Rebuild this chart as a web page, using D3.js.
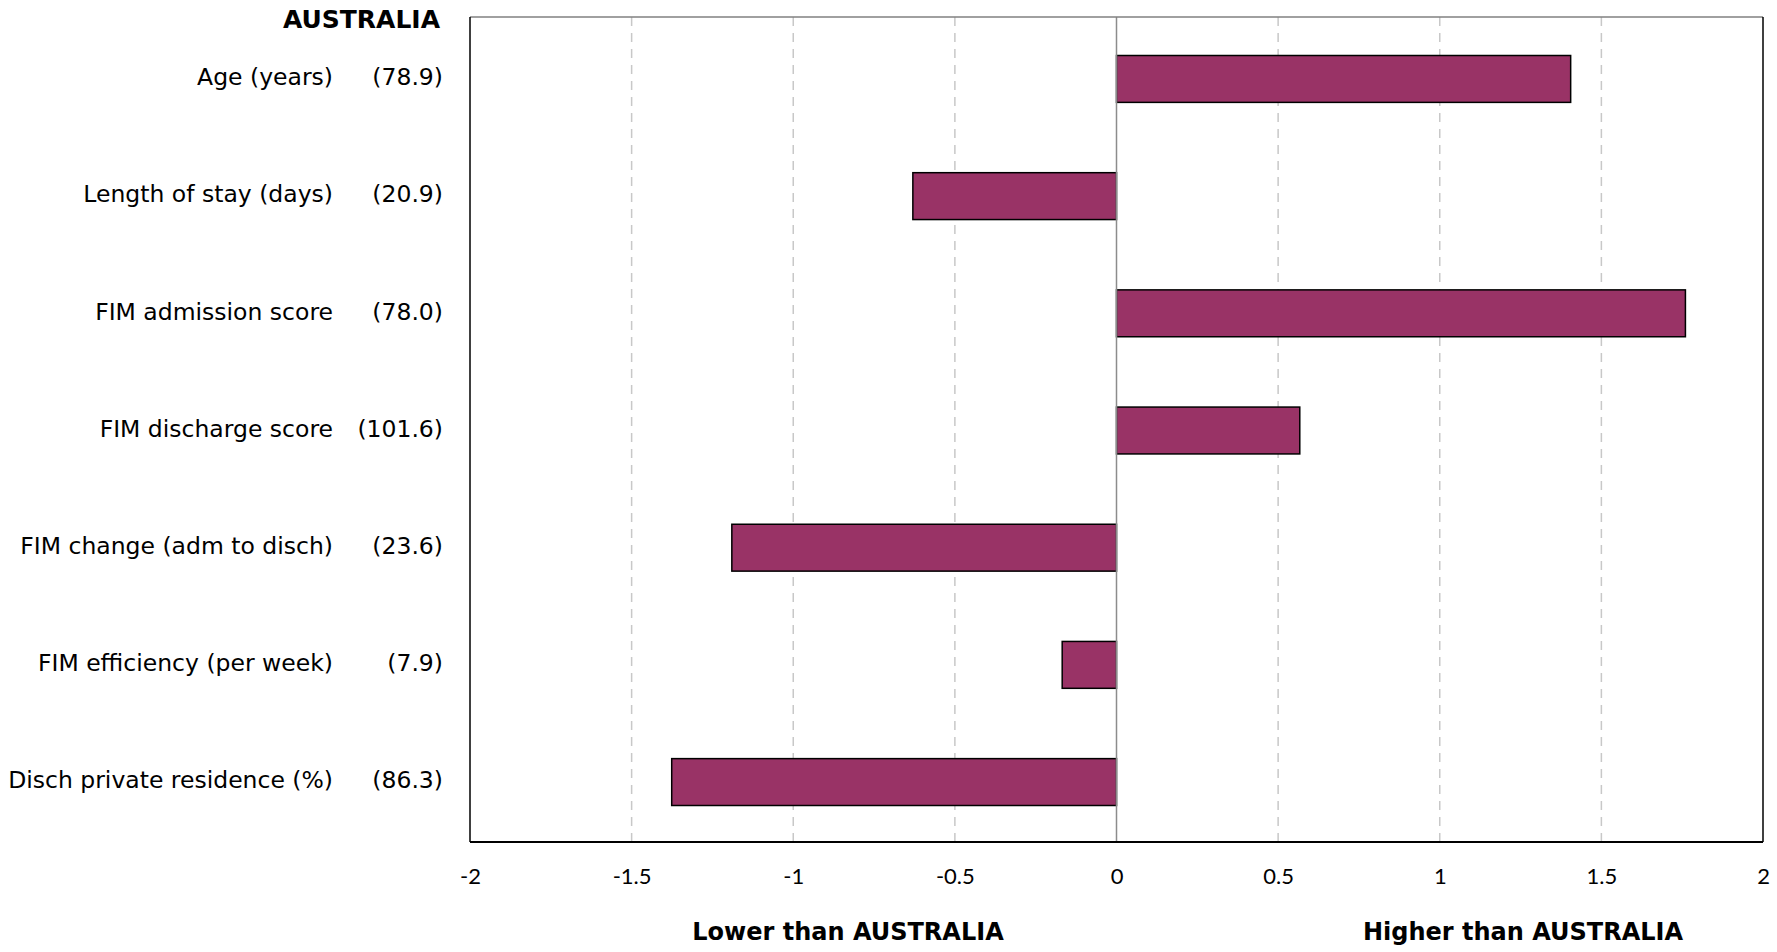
<!DOCTYPE html>
<html><head><meta charset="utf-8">
<script src="https://cdn.jsdelivr.net/npm/d3@7"></script>
<style>
body{margin:0;background:#fff;}
text{font-family:"DejaVu Sans","Noto Sans",sans-serif;fill:#000;}
</style></head>
<body><svg id="c" width="1777" height="952"></svg>
<script>
const categories = ["Age (years)","Length of stay (days)","FIM admission score","FIM discharge score","FIM change (adm to disch)","FIM efficiency (per week)","Disch private residence (%)"];
const refValues = ["(78.9)","(20.9)","(78.0)","(101.6)","(23.6)","(7.9)","(86.3)"];
const values = [1.405, -0.63, 1.76, 0.567, -1.19, -0.168, -1.376];
const xTicks = [-2,-1.5,-1,-0.5,0,0.5,1,1.5,2];
const refName = "AUSTRALIA";

const svg = d3.select("#c");
const m = {l:470, r:1763, t:17, b:842};
const x = d3.scaleLinear().domain([-2,2]).range([m.l, m.r]);
const y = d3.scaleBand().domain(categories).range([m.t, m.b]).paddingInner(0.6).paddingOuter(0.32);

// gridlines
svg.append("g").selectAll("line").data(xTicks.filter(d=>d!==0 && d!==-2 && d!==2)).join("line")
  .attr("x1",d=>x(d)).attr("x2",d=>x(d)).attr("y1",m.t).attr("y2",m.b)
  .attr("stroke","#c8c8c8").attr("stroke-width",1.5).attr("stroke-dasharray","9,7");

// bars
svg.append("g").selectAll("rect").data(values).join("rect")
  .attr("x",(d)=>x(Math.min(0,d))).attr("width",d=>Math.abs(x(d)-x(0)))
  .attr("y",(d,i)=>y(categories[i])+1).attr("height",y.bandwidth())
  .attr("fill","#993366").attr("stroke","#000").attr("stroke-width",1.5);

// zero line
svg.append("line").attr("x1",x(0)).attr("x2",x(0)).attr("y1",m.t).attr("y2",m.b)
  .attr("stroke","#8c8c8c").attr("stroke-width",1.5);

// frame
svg.append("line").attr("x1",m.l).attr("x2",m.r).attr("y1",m.t).attr("y2",m.t).attr("stroke","#808080").attr("stroke-width",1.5);
svg.append("line").attr("x1",m.l).attr("x2",m.l).attr("y1",m.t).attr("y2",m.b).attr("stroke","#000").attr("stroke-width",1.5);
svg.append("line").attr("x1",m.r).attr("x2",m.r).attr("y1",m.t).attr("y2",m.b).attr("stroke","#000").attr("stroke-width",1.5);
svg.append("line").attr("x1",m.l).attr("x2",m.r).attr("y1",m.b).attr("y2",m.b).attr("stroke","#000").attr("stroke-width",2);

// x axis
const xa = d3.axisBottom(x).tickValues(xTicks).tickSize(0).tickPadding(26).tickFormat(d=>String(d));
const gx = svg.append("g").attr("transform",`translate(0,${m.b})`).call(xa);
gx.select(".domain").remove();
gx.selectAll("text").style("font-family","Lato, 'Noto Sans', sans-serif").style("font-size","22px").attr("fill","#000");

// category labels
const lab = svg.append("g");
categories.forEach((c,i)=>{
  const cy = y(c)+y.bandwidth()/2-1;
  lab.append("text").attr("x",333).attr("y",cy).attr("dy","0.35em").attr("text-anchor","end").style("font-size","23.5px").text(c);
  lab.append("text").attr("x",443).attr("y",cy).attr("dy","0.35em").attr("text-anchor","end").style("font-size","23.5px").text(refValues[i]);
});
svg.append("text").attr("x",440).attr("y",28).attr("text-anchor","end").style("font-size","25px").style("font-weight","bold").text(refName);

svg.append("text").attr("x",848).attr("y",940).attr("text-anchor","middle").style("font-size","24px").style("font-weight","bold").text("Lower than " + refName);
svg.append("text").attr("x",1523).attr("y",940).attr("text-anchor","middle").style("font-size","24px").style("font-weight","bold").text("Higher than " + refName);
</script></body></html>
